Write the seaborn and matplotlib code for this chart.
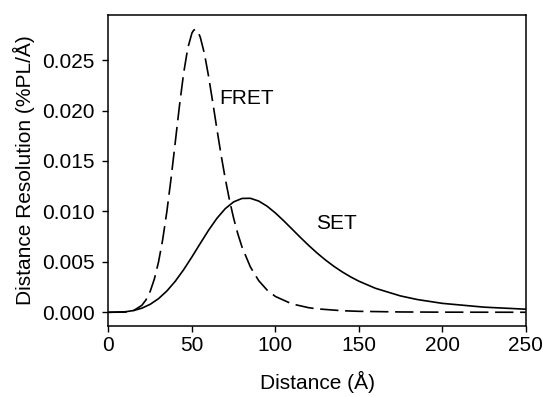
import pandas as pd
import matplotlib
matplotlib.use('Agg')
import matplotlib.pyplot as plt
import seaborn as sns

# FRET (dashed) curve
fret_x = [0, 10, 15, 20, 22.5, 25, 27.5, 30, 32.5, 35, 37.5, 40, 42.5, 45, 47.5,
          50, 51, 52, 53.5, 55, 57.5, 60, 62.5, 65, 67.5, 70, 72.5, 75, 77.5, 80,
          85, 90, 95, 100, 110, 120, 125, 140, 150, 175, 200, 250]
fret_y = [0, 0.0000217, 0.000165, 0.00069, 0.001238, 0.00208, 0.003305, 0.0050,
          0.007231, 0.01001, 0.013273, 0.01684, 0.02043, 0.02367, 0.02618,
          0.02768, 0.027953, 0.02805, 0.027846, 0.02727, 0.02563, 0.02337,
          0.02079, 0.01813, 0.01557, 0.01322, 0.011128, 0.00932, 0.007777,
          0.00648, 0.00450, 0.00314, 0.00221, 0.00157, 0.000826, 0.000455,
          0.000343, 0.000156, 0.0000967, 0.000033, 0.000013, 0.0000027]

# SET (solid) curve
set_x = [0, 10, 15, 20, 25, 30, 35, 40, 45, 50, 55, 60, 65, 70, 75, 80, 85, 90,
         95, 100, 105, 110, 115, 120, 125, 130, 135, 140, 145, 150, 160, 175,
         185, 200, 225, 250]
set_y = [0, 0.0000512, 0.000173, 0.000408, 0.000793, 0.001355, 0.002115,
         0.003074, 0.004214, 0.00549, 0.006829, 0.00814, 0.009321, 0.010279,
         0.010945, 0.011285, 0.011301, 0.011027, 0.010522, 0.009848, 0.009072,
         0.008249, 0.007422, 0.006624, 0.005875, 0.005187, 0.004566, 0.004011,
         0.003519, 0.003087, 0.002378, 0.001622, 0.001267, 0.000887, 0.00051,
         0.000308]

sns.set_style('ticks')
plt.rcParams['font.family'] = ['Liberation Sans', 'DejaVu Sans']
plt.rcParams['text.color'] = 'black'
plt.rcParams['axes.labelcolor'] = 'black'

fig = plt.figure(figsize=(5.43, 3.97), dpi=100)
ax = fig.add_axes([0.1998, 0.1788, 0.7683, 0.7842])

sns.lineplot(x=fret_x, y=fret_y, ax=ax, color='black', linewidth=1.2,
             linestyle=(0, (11, 4)))
sns.lineplot(x=set_x, y=set_y, ax=ax, color='black', linewidth=1.2)

ax.set_xlim(0, 250)
ax.set_ylim(-0.00136, 0.0295)
ax.set_xticks([0, 50, 100, 150, 200, 250])
ax.set_yticks([0, 0.005, 0.010, 0.015, 0.020, 0.025])
ax.set_yticklabels(['0.000', '0.005', '0.010', '0.015', '0.020', '0.025'])
ax.tick_params(direction='out', length=4, width=1, labelsize=15,
               colors='black', labelcolor='black')
ax.tick_params(axis='y', pad=6)
for s in ax.spines.values():
    s.set_linewidth(1.1)
    s.set_color('black')

ax.set_xlabel('Distance (Å)', fontsize=15, labelpad=11, color='black')
ax.set_ylabel('Distance Resolution (%PL/Å)', fontsize=15, labelpad=5,
              color='black')

ax.text(66.5, 0.0212, 'FRET', fontsize=15, va='center', ha='left', color='black')
ax.text(124.5, 0.0088, 'SET', fontsize=15, va='center', ha='left', color='black')

fig.savefig('out.png', dpi=100)
